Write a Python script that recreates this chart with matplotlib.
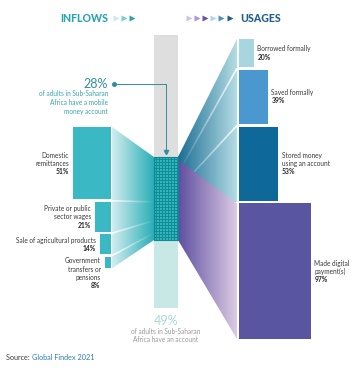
import numpy as np
import matplotlib.pyplot as plt
from matplotlib.patches import Polygon, Rectangle
from matplotlib.colors import LinearSegmentedColormap, to_rgba
from matplotlib.collections import LineCollection

plt.rcParams['font.family'] = ['Lato', 'DejaVu Sans']

# data
inflow_labels = ['Domestic\nremittances', 'Private or public\nsector wages',
                 'Sale of agricultural products', 'Government\ntransfers or\npensions']
inflow_values = [51, 21, 14, 8]
usage_labels = ['Borrowed formally', 'Saved formally', 'Stored money\nusing an account',
                'Made digital\npayment(s)']
usage_values = [20, 39, 53, 97]
mobile_money_share = 28
account_share = 49

# layout (pixels)
W, H = 362, 369
px_h = 1.42      # bar height per %
px_w = 0.74      # bar width per %
gap = 2.6
col_l, col_r = 154, 178
col_top, dot_top, dot_bot, col_bot = 35, 157, 240, 308
left_edge = 110.5
right_edge = 239
line_h = 8.1

fig = plt.figure(figsize=(W / 100, H / 100), dpi=100)
ax = fig.add_axes([0, 0, 1, 1])


def grad_poly(verts, c0, c1, x0, x1, z):
    poly = Polygon(verts, closed=True, facecolor='none', edgecolor='none')
    ax.add_patch(poly)
    cmap = LinearSegmentedColormap.from_list('g', [c0, c1])
    ys = [v[1] for v in verts]
    im = ax.imshow(np.linspace(0, 1, 256).reshape(1, -1), cmap=cmap,
                   extent=(x0, x1, max(ys), min(ys)), aspect='auto',
                   interpolation='bilinear', zorder=z)
    im.set_clip_path(poly)


def fade_line(p0, p1, z, lw=1.2):
    t = np.linspace(0, 1, 30)
    xs = p0[0] + (p1[0] - p0[0]) * t
    ys = p0[1] + (p1[1] - p0[1]) * t
    segs = [[(xs[i], ys[i]), (xs[i + 1], ys[i + 1])] for i in range(len(t) - 1)]
    cols = [to_rgba('white', 1 - t[i] ** 0.7) for i in range(len(t) - 1)]
    ax.add_collection(LineCollection(segs, colors=cols, linewidths=lw, zorder=z))


def label_block(x, ytop, lab, v, ha):
    lines = lab.split('\n')
    for k, s in enumerate(lines):
        ax.text(x, ytop + k * line_h, s, ha=ha, va='center', fontsize=4.7,
                color='#3a3a3a')
    ax.text(x, ytop + len(lines) * line_h, f'{v}%', ha=ha, va='center',
            fontsize=4.9, color='#2a2a2a', fontweight='bold')


# central column
ax.add_patch(Rectangle((col_l, col_top), col_r - col_l, dot_top - col_top,
                       facecolor='#dedede', edgecolor='none', zorder=1))
ax.add_patch(Rectangle((col_l, dot_bot), col_r - col_l, col_bot - dot_bot,
                       facecolor='#c8e8e5', edgecolor='none', zorder=1))
ax.add_patch(Rectangle((col_l, dot_top), col_r - col_l, dot_bot - dot_top,
                       facecolor='#33b3bc', edgecolor='#0d8591', lw=0.8, zorder=5))
gx = np.arange(col_l + 1.5, col_r, 3)
gy = np.arange(dot_top + 1.5, dot_bot, 3)
ax.vlines(gx, dot_top, dot_bot, color='#108c97', lw=0.7, zorder=6)
ax.hlines(gy, col_l, col_r, color='#108c97', lw=0.7, zorder=6)

# inflow bars + flows
tops = []
y = 127
for v in inflow_values:
    tops.append(y)
    y += v * px_h + gap
in_tot = sum(inflow_values)
col_h = dot_bot - dot_top
ax.bar([left_edge] * 4, [v * px_h for v in inflow_values],
       width=[-v * px_w for v in inflow_values], bottom=tops, align='edge',
       color='#3ab8c3', zorder=3)
last_bot = tops[-1] + inflow_values[-1] * px_h
grad_poly([(left_edge + 1.5, tops[0]), (col_l, dot_top), (col_l, dot_bot),
           (left_edge + 1.5, last_bot)], '#d2edef', '#2aaeb8', left_edge + 1.5, col_l, 2)
cum = 0
for i, v in enumerate(inflow_values[:-1]):
    cum += v
    gy0 = tops[i] + v * px_h + gap / 2
    fade_line((left_edge + 1.5, gy0), (col_l, dot_top + col_h * cum / in_tot), 3)

for lab, v, t in zip(inflow_labels, inflow_values, tops):
    xr = left_edge - v * px_w - 4
    n = lab.count('\n') + 1
    if lab.startswith('Government'):
        ytop = t + 4
    else:
        ytop = t + v * px_h / 2 - n * line_h / 2
    label_block(xr, ytop, lab, v, 'right')

# usage bars + flows
utops = []
y = 39
for v in usage_values:
    utops.append(y)
    y += v * px_h * 0.985 + gap
uh = [v * px_h * 0.985 for v in usage_values]
bar_cols = ['#a8d6df', '#4b98d0', '#0f689a', '#5a55a0']
ax.bar([right_edge] * 4, uh, width=[v * px_w for v in usage_values], bottom=utops,
       align='edge', color=bar_cols, zorder=3)

fx0, fx1 = col_r, right_edge - 2
# teal flows (stored, saved, borrowed), anchored at top of dotted block
for i in [2, 1, 0]:
    cb = dot_top + col_h * usage_values[i] / 100
    grad_poly([(fx0, dot_top), (fx1, utops[i]), (fx1, utops[i] + uh[i] + gap / 2),
               (fx0, cb)], '#1b6e95', '#b5dde4', fx0, fx1, 2)
for i in [0, 1]:
    cb = dot_top + col_h * usage_values[i] / 100
    fade_line((fx1, utops[i] + uh[i] + gap / 2), (fx0, cb), 2.5)
# digital payments flow, anchored at bottom
ct = dot_bot - col_h * usage_values[3] / 100
grad_poly([(fx0, ct), (fx1, utops[3]), (fx1, utops[3] + uh[3]), (fx0, dot_bot)],
          '#5e4ea0', '#dccbe3', fx0, fx1, 2.8)

for i, (lab, v) in enumerate(zip(usage_labels, usage_values)):
    xl = right_edge + v * px_w + 3.5
    n = lab.count('\n') + 1
    if i == 3:
        ytop = utops[i] + uh[i] / 2 - 8
    else:
        ytop = utops[i] + uh[i] / 2 - n * line_h / 2
    label_block(xl, ytop, lab, v, 'left')

# 28% callout
ax.plot([114, 166, 166], [84, 84, 151], color='#2f8e9b', lw=0.7, zorder=7)
ax.plot([114], [84], 'o', ms=2.6, color='#2f8e9b', zorder=7)
ax.plot([166], [152], marker='v', ms=3, color='#2f8e9b', zorder=7)
ax.text(108, 84, f'{mobile_money_share}%', ha='right', va='center', fontsize=9,
        color='#2f8e9b')
ax.text(108, 90.5, 'of adults in Sub-Saharan\nAfrica have a mobile\nmoney account',
        ha='right', va='top', fontsize=4.7, color='#3aa5ae', linespacing=1.3)

# 49% note
ax.text(166, 321, f'{account_share}%', ha='center', va='center', fontsize=9,
        color='#a9dcd7')
ax.text(166, 327.5, 'of adults in Sub-Saharan\nAfrica have an account', ha='center',
        va='top', fontsize=4.7, color='#9a9a9a', linespacing=1.3)

# headers
ax.text(108, 18, 'INFLOWS', ha='right', va='center', fontsize=7.6,
        fontweight='black', color='#2aa5b2')
for xx, c in zip([116, 124, 132], ['#cbe9eb', '#7fcdd3', '#2aa5b2']):
    ax.plot([xx], [18], marker='>', ms=5, color=c, mec='none')
for xx, c in zip([189, 197, 205, 213, 221, 230],
                 ['#cfc2e2', '#a996cd', '#6a52a6', '#b4d3e6', '#4c92c8', '#1c5f8f']):
    ax.plot([xx], [18], marker='>', ms=5, color=c, mec='none')
ax.text(240, 18, 'USAGES', ha='left', va='center', fontsize=7.6,
        fontweight='black', color='#1e5f8e')

# source
t = ax.text(6, 357, 'Source: ', ha='left', va='center', fontsize=5.2, color='#3a3a3a')
ax.annotate('Global Findex 2021', xycoords=t, xy=(1, 0.5), va='center',
            fontsize=5.2, color='#2c7bb8')

ax.set_xlim(0, W)
ax.set_ylim(H, 0)
ax.axis('off')
fig.savefig('out.png', dpi=100, facecolor='white')
